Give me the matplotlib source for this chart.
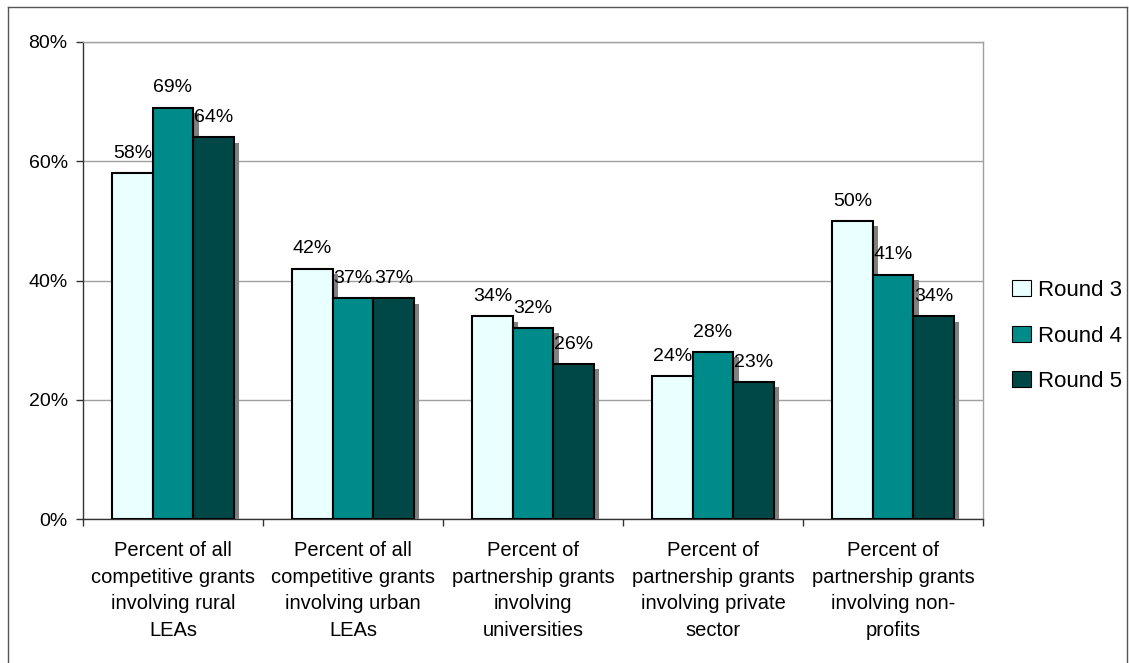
import matplotlib
matplotlib.use("Agg")
import matplotlib.pyplot as plt
import matplotlib.patheffects as pe
from matplotlib.patches import Rectangle
from matplotlib.lines import Line2D
import numpy as np

categories = [
    "Percent of all\ncompetitive grants\ninvolving rural\nLEAs",
    "Percent of all\ncompetitive grants\ninvolving urban\nLEAs",
    "Percent of\npartnership grants\ninvolving\nuniversities",
    "Percent of\npartnership grants\ninvolving private\nsector",
    "Percent of\npartnership grants\ninvolving non-\nprofits",
]
series_names = ["Round 3", "Round 4", "Round 5"]
round3 = [58, 42, 34, 24, 50]
round4 = [69, 37, 32, 28, 41]
round5 = [64, 37, 26, 23, 34]
series_values = [round3, round4, round5]
colors = ["#EAFFFF", "#008B8B", "#004848"]
yticks = [0, 20, 40, 60, 80]

plt.rcParams['font.family'] = ['Liberation Sans', 'DejaVu Sans']

W, H = 1129, 663
fig = plt.figure(figsize=(W / 100, H / 100), dpi=100)
ax = fig.add_axes([83 / W, 1 - 519 / H, (983 - 83) / W, (519 - 42) / H])

# outer chart frame
fig.add_artist(Line2D([8 / W, 8 / W], [0, 1 - 7 / H], transform=fig.transFigure,
                      color="#555555", lw=1))
fig.add_artist(Line2D([8 / W, 1127 / W], [1 - 7 / H, 1 - 7 / H], transform=fig.transFigure,
                      color="#555555", lw=1))
fig.add_artist(Line2D([1127 / W, 1127 / W], [0, 1 - 7 / H], transform=fig.transFigure,
                      color="#555555", lw=1))

n = len(categories)
x = np.arange(n) + 0.5
bw = 0.225
shadow = [pe.SimplePatchShadow(offset=(3.8, -3.8), shadow_rgbFace="#808080", alpha=1.0),
          pe.Normal()]
for i, (name, vals, col) in enumerate(zip(series_names, series_values, colors)):
    bars = ax.bar(x + (i - 1) * bw, vals, bw, color=col, edgecolor="black",
                  linewidth=1.5, label=name, zorder=3 + i)
    for b in bars:
        b.set_path_effects(shadow)
    ax.bar_label(bars, labels=[f"{v}%" for v in vals], padding=8, fontsize=14,
                 zorder=10)

ax.set_xlim(0, n)
ax.set_ylim(0, 80)
ax.set_yticks(yticks)
ax.set_yticklabels([f"{v}%" for v in yticks], fontsize=14)
ax.set_xticks(np.arange(n + 1))
ax.set_xticklabels([])
ax.set_xticks(x, minor=True)
ax.set_xticklabels(categories, minor=True, fontsize=14.5, linespacing=1.5)
ax.tick_params(axis="x", which="minor", length=0, pad=16)
ax.tick_params(axis="x", which="major", length=5, width=1, color="#333333")
ax.tick_params(axis="y", length=5, width=1, color="#333333", pad=6)

ax.yaxis.grid(True, color="#A0A0A0", lw=1, zorder=0)
ax.set_axisbelow(True)
for s in ["top", "right"]:
    ax.spines[s].set_color("#A0A0A0")
    ax.spines[s].set_linewidth(1)
for s in ["left", "bottom"]:
    ax.spines[s].set_color("#333333")
    ax.spines[s].set_linewidth(1)

handles = [Rectangle((0, 0), 1, 1, facecolor=c, edgecolor="black", lw=0.8) for c in colors]
fig.legend(handles, series_names, loc="center left",
           bbox_to_anchor=(1003 / W, 1 - 336 / H), frameon=False, fontsize=16,
           handlelength=0.86, handleheight=0.73, handletextpad=0.3, labelspacing=1.1,
           borderaxespad=0)

fig.savefig("out.png", dpi=100)
